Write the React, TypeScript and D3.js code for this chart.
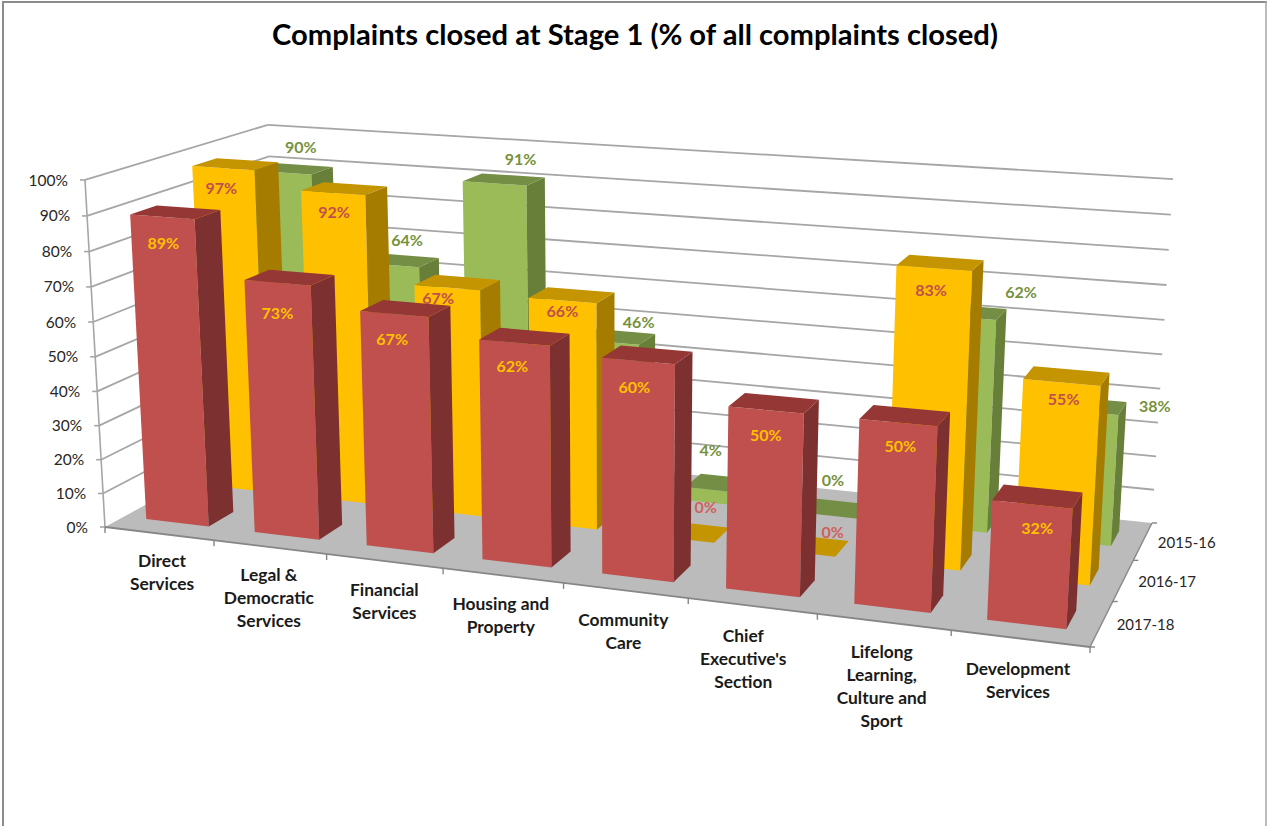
import React from "react";
import * as d3 from "d3";

const title = "Complaints closed at Stage 1 (% of all complaints closed)";
const categories = [
  "Direct|Services",
  "Legal &|Democratic|Services",
  "Financial|Services",
  "Housing and|Property",
  "Community|Care",
  "Chief|Executive's|Section",
  "Lifelong|Learning,|Culture and|Sport",
  "Development|Services",
];
const seriesNames = ["2017-18", "2016-17", "2015-16"]; // front to back
const values2017 = [89, 73, 67, 62, 60, 50, 50, 32];
const values2016 = [97, 92, 67, 66, 0, 0, 83, 55];
const values2015 = [90, 64, 91, 46, 4, 0, 62, 38];
const seriesValues = [values2017, values2016, values2015];
const yTicks = [0, 10, 20, 30, 40, 50, 60, 70, 80, 90, 100];

const palettes = [
  { front: "#C0504D", top: "#953735", side: "#7D3030", label: "#FFC000" },
  { front: "#FFC000", top: "#C49500", side: "#A67C00", label: "#C0504D" },
  { front: "#9BBB59", top: "#748E45", side: "#687F3A", label: "#76923C" },
];

// Small label placement corrections, relative to the projected bar top
const labelNudgeX = [
  [1, 0, -2, -2, -4, 0, 2, 5],
  [-2, 1, -9, 0, 24, 31, -3, 2],
  [-3, -11, -11, -12, -59, -59, -5, 0],
];
const labelNudgeY = [
  [10, 15, 9, 8, 10, 9, 8, 8],
  [4, 4, -5, -5, -5, 7, 6, 1],
  [3, 1, -1, 1, -23, -21, -13, 4],
];
const catLabelNudgeX = [1, -3, -2, -4, -4, -11, -4, -4];

// Camera: floor corners and the height vector of a perspective view
const floor = { x0: 105, y0: 527, x1: 1090, y1: 647, x2: 1152, y2: 523, x3: 279.4, y3: 431.6 };
const vertical = { vx: 613.3, vy: 9346, k: -0.03786 };

function makeProjection() {
  const { x0, y0, x1, y1, x2, y2, x3, y3 } = floor;
  const dx1 = x1 - x2, dx2 = x3 - x2, sx = x0 - x1 + x2 - x3;
  const dy1 = y1 - y2, dy2 = y3 - y2, sy = y0 - y1 + y2 - y3;
  const den = dx1 * dy2 - dx2 * dy1;
  const g = (sx * dy2 - dx2 * sy) / den;
  const h = (dx1 * sy - sx * dy1) / den;
  const a = x1 - x0 + g * x1, b = x3 - x0 + h * x3;
  const d = y1 - y0 + g * y1, e = y3 - y0 + h * y3;
  return (u: number, v: number, z: number): [number, number] => {
    const k = vertical.k * z;
    const w = g * u + h * v + 1 + k;
    return [
      (a * u + b * v + x0 + k * vertical.vx) / w,
      (d * u + e * v + y0 + k * vertical.vy) / w,
    ];
  };
}

const project = makeProjection();
const zScale = d3.scaleLinear().domain([0, 100]).range([0, 1]);
const uScale = d3.scaleBand<number>().domain(d3.range(categories.length)).range([0, 1]).paddingInner(0.42).paddingOuter(0.213).align(0.48);
const vScale = d3.scaleBand<number>().domain(d3.range(3)).range([0, 1]).paddingInner(0.59).paddingOuter(0.3);
const uAxis = d3.scaleLinear().domain([0, categories.length]).range([0, 1]);
const vAxis = d3.scaleLinear().domain([0, 3]).range([0, 1]);

const poly = (pts: [number, number][]) => (d3.line()(pts) as string) + "Z";
const FONT = "Lato, 'Open Sans', sans-serif";
const GRID = "#A6A6A6";
const AXIS = "#868686";

export default function App() {
  const seg = (a: [number, number], b: [number, number], stroke: string, w: number, key: string) => (
    <line key={key} x1={a[0]} y1={a[1]} x2={b[0]} y2={b[1]} stroke={stroke} strokeWidth={w} />
  );

  const floorPath = poly([project(0, 0, 0), project(1, 0, 0), project(1, 1, 0), project(0, 1, 0)]);

  const grid = yTicks.map((t) => {
    const z = zScale(t);
    const a = project(0, 0, z), b = project(0, 1, z), c = project(1, 1, z);
    return (
      <g key={t}>
        {t > 0 && seg(a, b, GRID, 1.8, "l")}
        {t > 0 && seg(b, c, GRID, 1.8, "b")}
        {seg([a[0] - 5, a[1]], a, GRID, 1.6, "t")}
        <text x={a[0] - 17} y={a[1]} dy="0.36em" textAnchor="end" fontFamily={FONT} fontSize={15.5} fill="#262626">{t}%</text>
      </g>
    );
  });

  const bars = [2, 1, 0].map((s) =>
    seriesValues[s].map((val, c) => {
      const p = palettes[s];
      const u0 = uScale(c)!, u1 = u0 + uScale.bandwidth();
      const v0 = vScale(s)!, v1 = v0 + vScale.bandwidth();
      const z = zScale(val);
      return (
        <g key={`${s}-${c}`}>
          {val > 0 && <path d={poly([project(u0, v0, 0), project(u1, v0, 0), project(u1, v0, z), project(u0, v0, z)])} fill={p.front} />}
          {val > 0 && <path d={poly([project(u1, v0, 0), project(u1, v1, 0), project(u1, v1, z), project(u1, v0, z)])} fill={p.side} />}
          <path d={poly([project(u0, v0, z), project(u1, v0, z), project(u1, v1, z), project(u0, v1, z)])} fill={p.top} />
        </g>
      );
    })
  );

  const labels = [2, 1, 0].map((s) =>
    seriesValues[s].map((val, c) => {
      const p = palettes[s];
      const uMid = uScale(c)! + uScale.bandwidth() / 2;
      const v0 = vScale(s)!;
      const [x, y] = project(uMid, v0, zScale(val));
      let dx = 0, dy = 16;
      if (s === 2) {
        dx = 19 + 58 * uMid;
        dy = -30 + 22 * uMid;
      } else if (val === 0) {
        dx = 2;
        dy = -27;
      }
      return (
        <text key={`${s}-${c}`} x={x + dx + labelNudgeX[s][c]} y={y + dy + labelNudgeY[s][c]} dy="0.36em" textAnchor="middle" fontFamily={FONT} fontWeight={700} fontSize={16} fill={s === 1 && val === 0 ? "#D0605C" : p.label}>
          {val}%
        </text>
      );
    })
  );

  const catTicks = d3.range(categories.length + 1).map((i) => {
    const a = project(uAxis(i), 0, 0);
    return seg(a, [a[0], a[1] + 6], AXIS, 1.4, `ct${i}`);
  });
  const serTicks = d3.range(4).map((i) => {
    const a = project(1, vAxis(i), 0);
    return seg(a, [a[0] + 5, a[1]], AXIS, 1.4, `st${i}`);
  });

  const catLabels = categories.map((name, i) => {
    const uMid = uAxis(i + 0.5);
    const [x, y] = project(uMid, 0, 0);
    return (
      <text key={name} fontFamily={FONT} fontWeight={700} fontSize={17.4} fill="#1a1a1a" textAnchor="middle">
        {name.split("|").map((line, j) => (
          <tspan key={j} x={x + 2 + catLabelNudgeX[i]} y={y + 27 + 4 * uMid + 23 * j} dy="0.36em">{line}</tspan>
        ))}
      </text>
    );
  });

  const serLabels = seriesNames.map((name, s) => {
    const [x, y] = project(1, vAxis(s + 0.5), 0);
    return (
      <text key={name} x={x + 15} y={y + 1} dy="0.36em" fontFamily={FONT} fontSize={15} fill="#262626">{name}</text>
    );
  });

  return (
    <svg width={1267} height={826} style={{ position: "absolute", left: 0, top: 0, background: "#fff" }}>
      <line x1={3} y1={1} x2={3} y2={826} stroke="#8C8C8C" strokeWidth={2} />
      <line x1={2} y1={2} x2={1267} y2={2} stroke="#8C8C8C" strokeWidth={2} />
      <line x1={1266} y1={1} x2={1266} y2={826} stroke="#A6A6A6" strokeWidth={1.5} />
      <text x={635} y={34.5} dy="0.36em" textAnchor="middle" fontFamily={FONT} fontWeight={700} fontSize={29.15} fill="#000">{title}</text>
      {grid}
      {seg(project(0, 0, 0), project(0, 0, 1), GRID, 1.6, "yAxis")}
      <path d={floorPath} fill="#BBBBBB" />
      {seg(project(0, 0, 0), project(1, 0, 0), AXIS, 1.8, "xAxis")}
      {seg(project(1, 0, 0), project(1, 1, 0), AXIS, 1.4, "zAxis")}
      {catTicks}
      {serTicks}
      {bars}
      {labels}
      {catLabels}
      {serLabels}
    </svg>
  );
}
